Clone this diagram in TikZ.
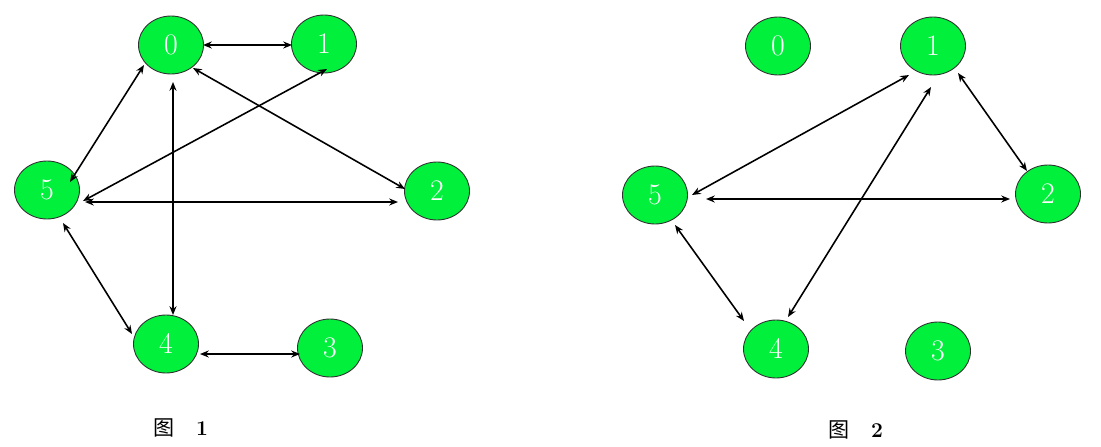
\documentclass[tikz,border=0pt]{standalone}
\usepackage{fontspec}
\newfontfamily\cjk{Noto Sans CJK SC}
\usepackage{xcolor}
\usetikzlibrary{arrows.meta,calc,shapes.geometric}
\definecolor{vertexGreen}{HTML}{00F03C}
\definecolor{rimGray}{HTML}{303030}

\begin{document}
\begin{tikzpicture}[x=0.02cm,y=-0.02cm,
    vertex/.style={ellipse,draw=rimGray,line width=0.5pt,fill=vertexGreen,
      minimum width=1.3cm,minimum height=1.16cm,inner sep=0pt,
      text=white,font=\fontsize{17}{17}\selectfont},
    edge/.style={{Stealth[length=5pt,width=4pt]}-{Stealth[length=5pt,width=4pt]},
      line width=0.9pt},
    caption/.style={font=\fontsize{12}{12}\selectfont}]
    \useasboundingbox (0,0) rectangle (1101,446);

    % figure 1
    \node[vertex] (a0) at (171,45) {0};
    \node[vertex] (a1) at (324,44) {1};
    \node[vertex] (a2) at (437,191) {2};
    \node[vertex] (a3) at (330,348) {3};
    \node[vertex] (a4) at (166,344) {4};
    \node[vertex] (a5) at (47,190) {5};
    \foreach \s/\p/\t/\q in {a0/{32,0}/a1/{-32,1},a0/{-27,20}/a5/{23,-8},
        a0/{2,37}/a4/{7,-29},a0/{22,23}/a2/{-32,-2},a1/{3,25}/a5/{36,11},
        a5/{38,12}/a2/{-39,11},a5/{16,33}/a4/{-34,-10},a4/{34,10}/a3/{-30,6}}
      \draw[edge] ($(\s)+(\p)$)--($(\t)+(\q)$);
    \node[caption] (cap1) at (181,428) {{\cjk 图}\quad\textbf{1}};

    % figure 2
    \node[vertex] (b0) at (778,46) {0};
    \node[vertex] (b1) at (933,46) {1};
    \node[vertex] (b2) at (1048,194) {2};
    \node[vertex] (b3) at (938,351) {3};
    \node[vertex] (b4) at (776,349) {4};
    \node[vertex] (b5) at (655,195) {5};
    \foreach \s/\p/\t/\q in {b1/{-24,29}/b5/{37,0},b1/{-2,41}/b4/{12,-32},
        b1/{25,27}/b2/{-21,-23},b5/{51,4}/b2/{-38,5},b5/{20,30}/b4/{-32,-28}}
      \draw[edge] ($(\s)+(\p)$)--($(\t)+(\q)$);
    \node[caption] (cap2) at (856,430) {{\cjk 图}\quad\textbf{2}};
\end{tikzpicture}
\end{document}
